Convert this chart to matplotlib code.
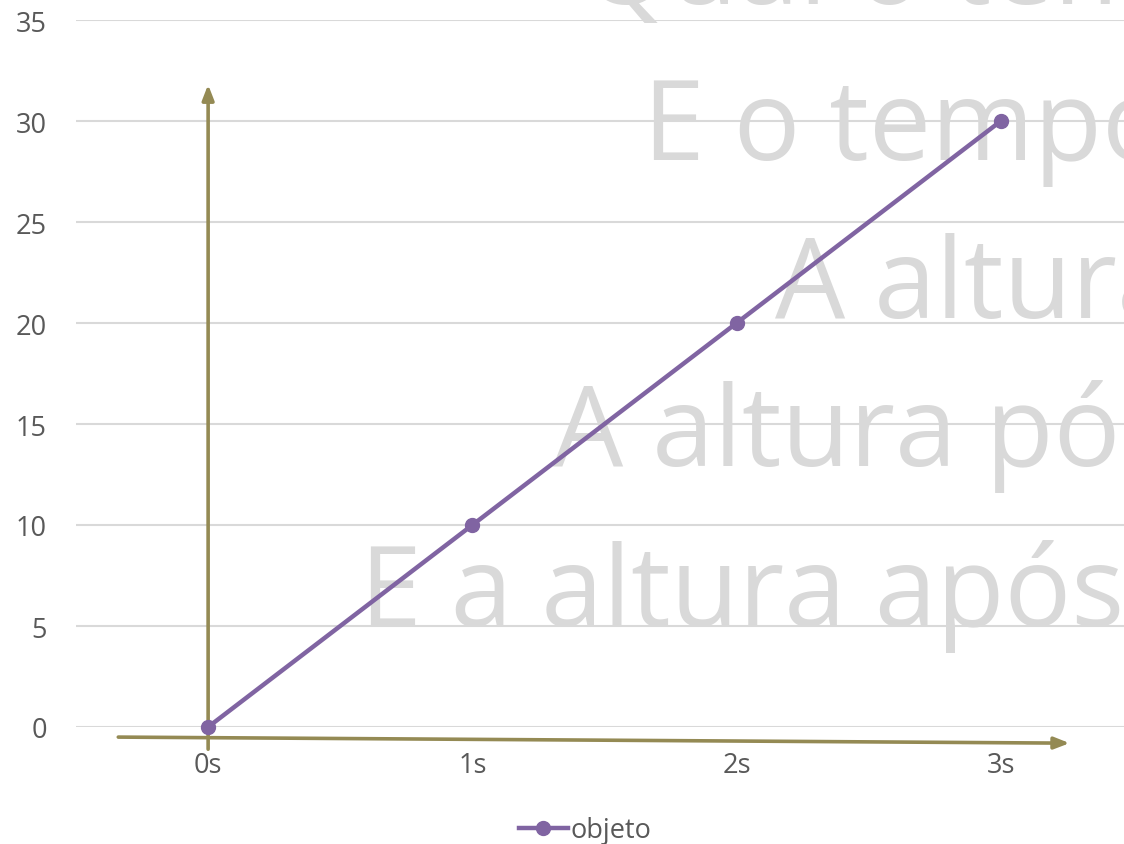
import matplotlib
import matplotlib.pyplot as plt
import numpy as np

plt.switch_backend("agg")
plt.rcParams["font.family"] = ["Open Sans", "DejaVu Sans"]

# chart data
categories = ["0s", "1s", "2s", "3s"]
heights = [0, 10, 20, 30]
series_name = "objeto"
y_ticks = [0, 5, 10, 15, 20, 25, 30, 35]

# slide text showing through behind the chart (figure pixel x, baseline y)
bg_lines = ["Qual o tempo", "E o tempo", "A altura", "A altura pó", "E a altura após"]
bg_x_px = [583, 643, 775, 553, 360]
bg_base_px = [4, 160, 318, 466, 626]

# hand drawn axis arrows, in data units (category index, height)
vert_arrow = [(0, -1.1), (0, 31.8)]
horiz_arrow = [(-0.34, -0.5), (3.26, -0.8)]

PURPLE = "#8064A2"
OLIVE = "#948A54"
GRID = "#D9D9D9"
TICK = "#595959"

W, H = 1124, 845
fig = plt.figure(figsize=(W / 100, H / 100), dpi=100)
ax = fig.add_axes([76 / W, (H - 728) / H, (1133 - 76) / W, (728 - 21) / H])
ax.set_facecolor("none")

for s, xp, yp in zip(bg_lines, bg_x_px, bg_base_px):
    fig.text(xp / W, (H - yp) / H, s, fontsize=80, color=GRID,
             ha="left", va="baseline", zorder=-5)

x = np.arange(len(categories))
ax.plot(x, heights, color=PURPLE, linewidth=3.2, marker="o", markersize=10,
        label=series_name, zorder=5, clip_on=False)

ax.set_xlim(-0.5, len(categories) - 0.5)
ax.set_ylim(0, 35)
ax.set_yticks(y_ticks)
ax.set_xticks(x)
ax.set_xticklabels(categories)
ax.tick_params(axis="both", length=0, labelsize=19.5, labelcolor=TICK)
ax.tick_params(axis="y", pad=21)
ax.tick_params(axis="x", pad=17)
ax.grid(axis="y", color=GRID, linewidth=1.5)
ax.set_axisbelow(True)
for sp in ax.spines.values():
    sp.set_visible(False)

for (x0, y0), (x1, y1) in [vert_arrow, horiz_arrow]:
    ax.annotate("", xy=(x1, y1), xytext=(x0, y0),
                arrowprops=dict(arrowstyle="-|>,head_length=0.9,head_width=0.35",
                                color=OLIVE, linewidth=2.6, shrinkA=0, shrinkB=0),
                annotation_clip=False, zorder=4)

leg = fig.legend(loc="center", bbox_to_anchor=(585 / W, (H - 831) / H), frameon=False,
                 fontsize=19.5, handlelength=1.8, handletextpad=0.1)
for t in leg.get_texts():
    t.set_color(TICK)

fig.savefig("out.png", dpi=100)
